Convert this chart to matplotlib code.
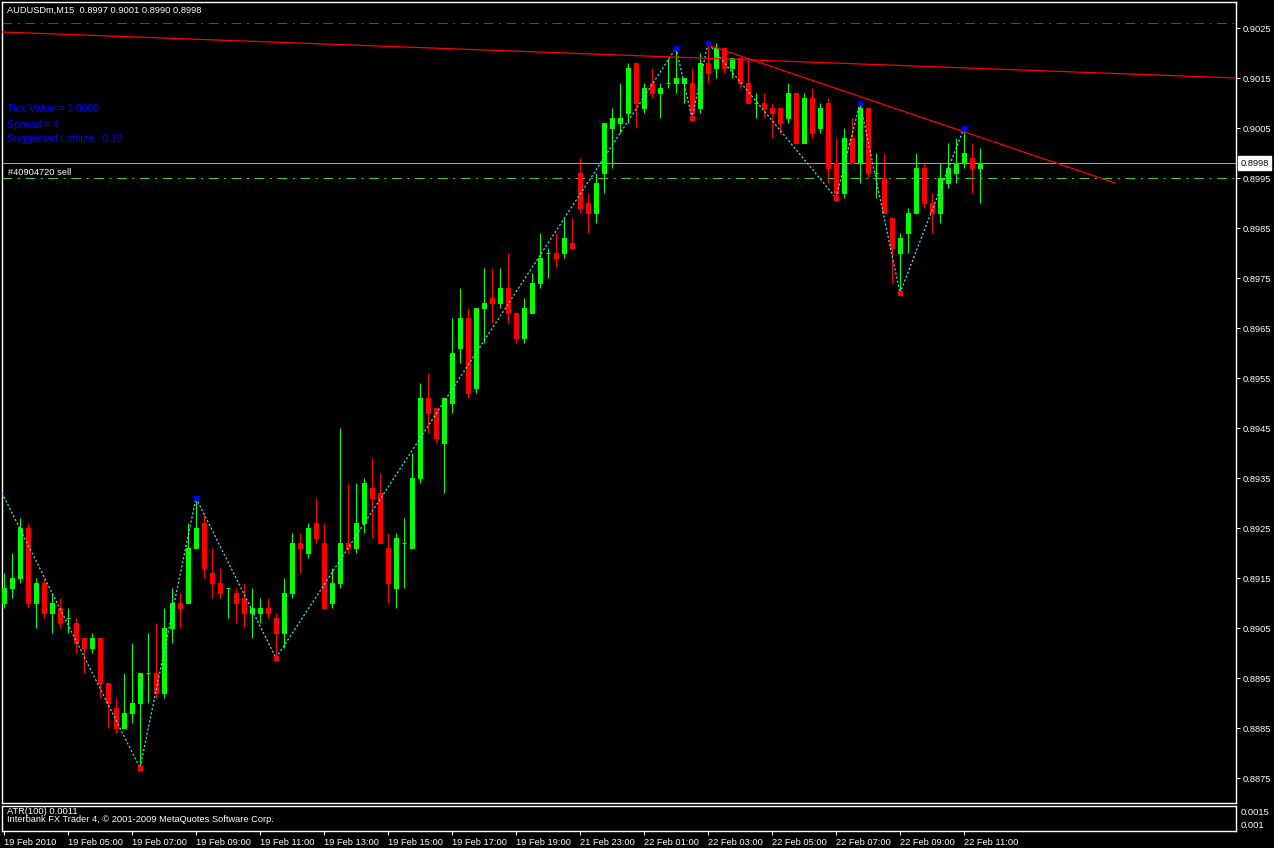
import matplotlib
matplotlib.use("Agg")
import matplotlib.pyplot as plt
import numpy as np

plt.rcParams['font.family'] = ['Liberation Sans', 'DejaVu Sans']
plt.rcParams['lines.scale_dashes'] = False

# AUDUSDm, M15 - 19 Feb 2010 03:00 .. 22 Feb 2010 11:30
opens = [0.8910, 0.8913, 0.8915, 0.8925, 0.8910, 0.8914, 0.8908, 0.8909, 0.8907, 0.8906,
         0.8903, 0.8901, 0.8903, 0.8894, 0.8889, 0.8885, 0.8888, 0.8890, 0.8896, 0.8896,
         0.8892, 0.8905, 0.8910, 0.8910, 0.8921, 0.8926, 0.8916, 0.8914, 0.8913, 0.8912,
         0.8911, 0.8908, 0.8908, 0.8909, 0.8907, 0.8904, 0.8912, 0.8922, 0.8920, 0.8926,
         0.8922, 0.8910, 0.8914, 0.8922, 0.8921, 0.8926, 0.8933, 0.8932, 0.8921, 0.8913,
         0.8922, 0.8921, 0.8935, 0.8951, 0.8949, 0.8942, 0.8950, 0.8961, 0.8967, 0.8953,
         0.8969, 0.8971, 0.8970, 0.8973, 0.8968, 0.8963, 0.8968, 0.8974, 0.8980, 0.8980,
         0.8980, 0.8982, 0.8996, 0.8990, 0.8988, 0.8996, 0.9005, 0.9006, 0.9008, 0.9018,
         0.9009, 0.9014, 0.9012, 0.9014, 0.9014, 0.9014, 0.9014, 0.9009, 0.9018, 0.9017,
         0.9021, 0.9017, 0.9019, 0.9014, 0.9010, 0.9010, 0.9009, 0.9009, 0.9007, 0.9012,
         0.9002, 0.9011, 0.9005, 0.9010, 0.8998, 0.8992, 0.9003, 0.8998, 0.9009, 0.8996,
         0.8995, 0.8987, 0.8980, 0.8984, 0.8988, 0.8997, 0.8990, 0.8988, 0.8994, 0.8996,
         0.8998, 0.8999, 0.8997]
highs = [0.8916, 0.8920, 0.8927, 0.8926, 0.8915, 0.8915, 0.8912, 0.8911, 0.8909, 0.8907,
         0.8903, 0.8904, 0.8903, 0.8894, 0.8891, 0.8896, 0.8902, 0.8896, 0.8904, 0.8906,
         0.8909, 0.8913, 0.8912, 0.8926, 0.8931, 0.8928, 0.8921, 0.8917, 0.8913, 0.8913,
         0.8914, 0.8913, 0.8911, 0.8911, 0.8908, 0.8915, 0.8924, 0.8924, 0.8926, 0.8931,
         0.8926, 0.8917, 0.8945, 0.8934, 0.8934, 0.8935, 0.8939, 0.8936, 0.8924, 0.8924,
         0.8927, 0.8940, 0.8954, 0.8956, 0.8949, 0.8951, 0.8967, 0.8973, 0.8969, 0.8969,
         0.8977, 0.8977, 0.8977, 0.8980, 0.8968, 0.8971, 0.8976, 0.8984, 0.8981, 0.8984,
         0.8987, 0.8987, 0.8999, 0.8992, 0.8996, 0.9006, 0.9009, 0.9014, 0.9018, 0.9018,
         0.9014, 0.9017, 0.9014, 0.9019, 0.9021, 0.9015, 0.9017, 0.9020, 0.9022, 0.9022,
         0.9021, 0.9019, 0.9019, 0.9019, 0.9012, 0.9012, 0.9010, 0.9009, 0.9014, 0.9012,
         0.9012, 0.9013, 0.9010, 0.9011, 0.9003, 0.9005, 0.9007, 0.9010, 0.9009, 0.9000,
         0.9000, 0.8987, 0.8984, 0.8989, 0.9000, 0.8998, 0.8992, 0.8998, 0.9002, 0.9003,
         0.9005, 0.9002, 0.9001]
lows = [0.8909, 0.8911, 0.8914, 0.8909, 0.8905, 0.8907, 0.8904, 0.8905, 0.8904, 0.8900,
        0.8896, 0.8900, 0.8891, 0.8885, 0.8884, 0.8885, 0.8886, 0.8877, 0.8890, 0.8891,
        0.8891, 0.8902, 0.8905, 0.8910, 0.8921, 0.8915, 0.8911, 0.8911, 0.8907, 0.8906,
        0.8905, 0.8903, 0.8906, 0.8907, 0.8899, 0.8901, 0.8911, 0.8916, 0.8919, 0.8922,
        0.8909, 0.8909, 0.8913, 0.8920, 0.8920, 0.8924, 0.8923, 0.8922, 0.8910, 0.8909,
        0.8913, 0.8921, 0.8934, 0.8944, 0.8942, 0.8932, 0.8948, 0.8958, 0.8951, 0.8952,
        0.8962, 0.8966, 0.8969, 0.8966, 0.8962, 0.8962, 0.8968, 0.8973, 0.8975, 0.8977,
        0.8979, 0.8981, 0.8988, 0.8984, 0.8986, 0.8992, 0.8997, 0.9004, 0.9006, 0.9005,
        0.9008, 0.9011, 0.9007, 0.9013, 0.9012, 0.9010, 0.9007, 0.9008, 0.9014, 0.9015,
        0.9016, 0.9015, 0.9013, 0.9010, 0.9007, 0.9007, 0.9003, 0.9004, 0.9006, 0.9002,
        0.9002, 0.9003, 0.9004, 0.8994, 0.8991, 0.8991, 0.8998, 0.8994, 0.8995, 0.8991,
        0.8988, 0.8974, 0.8972, 0.8980, 0.8988, 0.8989, 0.8984, 0.8986, 0.8993, 0.8994,
        0.8997, 0.8992, 0.8990]
closes = [0.8913, 0.8915, 0.8925, 0.8910, 0.8914, 0.8908, 0.8910, 0.8906, 0.8907, 0.8902,
          0.8901, 0.8903, 0.8894, 0.8890, 0.8885, 0.8888, 0.8890, 0.8896, 0.8896, 0.8892,
          0.8905, 0.8910, 0.8909, 0.8921, 0.8925, 0.8917, 0.8914, 0.8912, 0.8913, 0.8910,
          0.8908, 0.8909, 0.8909, 0.8908, 0.8904, 0.8912, 0.8922, 0.8921, 0.8925, 0.8923,
          0.8909, 0.8914, 0.8922, 0.8921, 0.8926, 0.8934, 0.8931, 0.8922, 0.8914, 0.8923,
          0.8922, 0.8935, 0.8951, 0.8948, 0.8943, 0.8951, 0.8960, 0.8967, 0.8952, 0.8969,
          0.8970, 0.8970, 0.8973, 0.8968, 0.8963, 0.8969, 0.8974, 0.8979, 0.8980, 0.8979,
          0.8983, 0.8981, 0.8989, 0.8988, 0.8994, 0.9006, 0.9007, 0.9007, 0.9017, 0.9010,
          0.9013, 0.9012, 0.9013, 0.9014, 0.9015, 0.9015, 0.9008, 0.9018, 0.9016, 0.9021,
          0.9017, 0.9019, 0.9014, 0.9010, 0.9010, 0.9009, 0.9008, 0.9006, 0.9012, 0.9002,
          0.9011, 0.9004, 0.9009, 0.8997, 0.8992, 0.9003, 0.8998, 0.9009, 0.8996, 0.8996,
          0.8988, 0.8981, 0.8983, 0.8988, 0.8997, 0.8990, 0.8988, 0.8995, 0.8997, 0.8998,
          0.9000, 0.8997, 0.8998]

# time axis labels (every 8 bars = 2 hours)
label_bars = [0, 8, 16, 24, 32, 40, 48, 56, 64, 72, 80, 88, 96, 104, 112, 120]
time_labels = ['19 Feb 2010', '19 Feb 05:00', '19 Feb 07:00', '19 Feb 09:00',
               '19 Feb 11:00', '19 Feb 13:00', '19 Feb 15:00', '19 Feb 17:00',
               '19 Feb 19:00', '21 Feb 23:00', '22 Feb 01:00', '22 Feb 03:00',
               '22 Feb 05:00', '22 Feb 07:00', '22 Feb 09:00', '22 Feb 11:00']
price_ticks = [0.8875, 0.8885, 0.8895, 0.8905, 0.8915, 0.8925, 0.8935, 0.8945,
               0.8955, 0.8965, 0.8975, 0.8985, 0.8995, 0.9005, 0.9015, 0.9025]

# zigzag swing points (bar index, price); first one comes from off-screen
zigzag_bars = [-0.25, 17, 24, 34, 84, 86, 88, 104, 107, 112, 120]
zigzag_prices = [0.8932, 0.8877, 0.8931, 0.8899, 0.9021, 0.9007, 0.9022,
                 0.8991, 0.9010, 0.8972, 0.9005]

# trend lines
trend1_bars = [-0.25, 154]
trend1_prices = [0.90242, 0.90150]
trend2_bars = [88, 138.9]
trend2_prices = [0.90216, 0.89940]

stop_level = 0.9026
order_level = 0.8995
order_label = '#40904720 sell'
atr_value = 0.0011
info_lines = ['Tick Value = 1.0000', 'Spread = 4', 'Suggested Lotsize : 0.10']

W, H = 1274, 848
FS = 6.7


def fx(xp):
    return xp / W


def fy(yp):
    return 1 - yp / H


fig = plt.figure(figsize=(W / 100, H / 100), dpi=100, facecolor='black')
ax = fig.add_axes([fx(2), fy(803), (1236 - 2) / W, (803 - 2) / H], facecolor='black')
ax_atr = fig.add_axes([fx(2), fy(831), (1236 - 2) / W, (831 - 805.5) / H], facecolor='black')

for a in (ax, ax_atr):
    for sp in a.spines.values():
        sp.set_color('white')
        sp.set_linewidth(1)
    a.set_xlim(-0.25, 154)

ax.set_ylim(0.88700, 0.90302)

# candles
o = np.array(opens)
h = np.array(highs)
l = np.array(lows)
c = np.array(closes)
x = np.arange(len(o))
cols = np.where(c >= o, '#00ff00', '#ff0000')
ax.vlines(x, l, h, colors=cols, linewidth=0.75, zorder=2)
ax.bar(x, np.abs(c - o), bottom=np.minimum(o, c), width=0.5, color=cols,
       edgecolor=cols, linewidth=0.75, zorder=3)

# zigzag
ax.plot(zigzag_bars, zigzag_prices, color='#3de0f5', linewidth=0.9,
        linestyle=(0, (1.5, 1.5)), zorder=4)
zz_b = np.array(zigzag_bars[1:])
zz_p = np.array(zigzag_prices[1:])
is_high = np.array([zigzag_prices[i + 1] > zigzag_prices[i] for i in range(len(zz_p))])
ax.plot(zz_b[is_high], zz_p[is_high], 's', color='#0000ff', markersize=2.4, zorder=5)
ax.plot(zz_b[~is_high], zz_p[~is_high], 's', color='#ff0000', markersize=2.4, zorder=5)

# trend lines and levels
ax.plot(trend1_bars, trend1_prices, color='red', linewidth=0.9, zorder=4)
ax.plot(trend2_bars, trend2_prices, color='red', linewidth=0.9, zorder=4)
ax.axhline(stop_level, color='red', linewidth=0.75, linestyle=(0, (7, 4, 1.5, 4)))
ax.axhline(order_level, color='#32cd32', linewidth=0.75, linestyle=(0, (7, 4, 1.5, 4)))
ax.axhline(closes[-1], color='#a0a0a0', linewidth=0.75)

# price axis
ax.set_xticks([])
ax.yaxis.tick_right()
ax.set_yticks(price_ticks)
ax.set_yticklabels([f'{p:.4f}' for p in price_ticks])
ax.tick_params(axis='y', colors='white', length=3, width=0.75, pad=1.5, labelsize=FS)

# ATR sub-window
ax_atr.set_ylim(0.00072, 0.00176)
ax_atr.yaxis.tick_right()
ax_atr.set_yticks([0.001, 0.0015])
ax_atr.set_yticklabels(['0.001', '0.0015'])
ax_atr.tick_params(axis='y', colors='white', length=0, pad=3, labelsize=FS)
ax_atr.set_xticks(label_bars)
ax_atr.set_xticklabels(time_labels, ha='left')
ax_atr.tick_params(axis='x', colors='white', length=3, width=0.75, pad=2, labelsize=FS)
for t in ax_atr.get_xticklabels():
    t.set_x(t.get_position()[0])

# texts
last = f'{opens[-1]:.4f} {highs[-1]:.4f} {lows[-1]:.4f} {closes[-1]:.4f}'
fig.text(fx(7), fy(10.7), 'AUDUSDm,M15  ' + last, color='white', fontsize=FS,
         va='center', ha='left')
for i, s in enumerate(info_lines):
    fig.text(fx(7), fy(109.5 + 15 * i), s, color='#0000ff', fontsize=7.6,
             va='center', ha='left')
fig.text(fx(8), fy(172.5), order_label, color='white', fontsize=FS, va='center', ha='left')
fig.text(fx(1240.5), fy(163.3), f'{closes[-1]:.4f}', color='black', fontsize=FS,
         va='center', ha='left',
         bbox=dict(facecolor='white', edgecolor='white', boxstyle='square,pad=0.25'))
fig.text(fx(7), fy(812), f'ATR(100) {atr_value:.4f}', color='white', fontsize=FS,
         va='center', ha='left')
fig.text(fx(7), fy(820), 'Interbank FX Trader 4, \u00a9 2001-2009 MetaQuotes Software Corp.',
         color='white', fontsize=FS, va='center', ha='left')

fig.savefig('out.png', dpi=100, facecolor='black')
